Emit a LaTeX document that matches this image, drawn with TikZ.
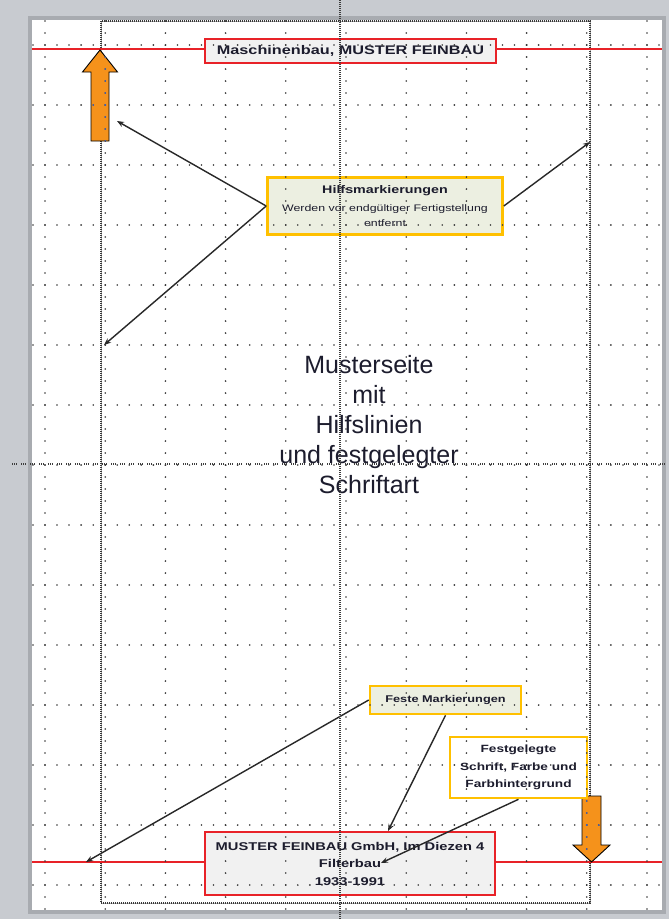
\documentclass[tikz,border=0pt]{standalone}
\usepackage{fontspec}
\setmainfont{Liberation Sans}
\newfontfamily\lblfont[FakeStretch=1.3]{Liberation Sans}
\usetikzlibrary{arrows.meta}
\definecolor{bggray}{RGB}{200,203,208}
\definecolor{shadowgray}{RGB}{168,171,176}
\definecolor{myred}{RGB}{232,34,40}
\definecolor{redfill}{RGB}{241,241,241}
\definecolor{myyellow}{RGB}{255,192,0}
\definecolor{greenfill}{RGB}{236,239,225}
\definecolor{myorange}{RGB}{245,146,27}
\definecolor{txt}{RGB}{28,28,45}
\definecolor{conncol}{RGB}{40,40,40}
\definecolor{dotcol}{RGB}{55,55,55}
\definecolor{dotblue}{RGB}{60,100,200}
\definecolor{guidecol}{RGB}{60,60,60}
\definecolor{margcol}{RGB}{55,55,55}
\definecolor{margbase}{RGB}{175,175,175}
\newcommand\mygriddots[1]{%
  \foreach \k in {0,...,10}{%
    \foreach \j in {-2,...,72}{%
      \fill[#1] (45+60.2*\k,45+12*\j) circle (0.9);
    }
  }
  \foreach \r in {0,...,14}{%
    \foreach \j in {-1,...,51}{%
      \fill[#1] (45+12.04*\j,45+60*\r) circle (0.9);
    }
  }
}
\tikzset{
  redbox/.style={draw=myred, line width=1.8pt, fill=redfill, inner sep=0pt, text=txt},
  yelbox/.style={draw=myyellow, line width=2.6pt, fill=greenfill, inner sep=0pt, text=txt, align=center},
  conn/.style={draw=conncol, line width=1.4pt, -{Stealth[length=7pt,width=5.5pt]}},
  oarrow/.style={fill=myorange, draw=black, line width=0.9pt, line join=miter},
  guide/.style={draw=guidecol, line width=1.2pt, dash pattern=on 1pt off 1pt},
  guideh/.style={draw=guidecol, line width=1.2pt, dash pattern=on 1pt off 1pt on 1pt off 1pt on 1pt off 4pt},
  marginbase/.style={draw=margbase, line width=0.7pt},
  margin/.style={draw=margcol, line width=1.2pt, dash pattern=on 1pt off 1pt},
  redline/.style={draw=myred, line width=1.8pt},
  lbl/.style={font={\lblfont\bfseries\fontsize{#1}{17.5pt}\selectfont}}
}
\begin{document}
\begin{tikzpicture}[x=1pt,y=-1pt]
\useasboundingbox (0,0) rectangle (669,919);
% window background and page
\fill[bggray] (0,0) rectangle (669,919);
\fill[shadowgray] (28,16) rectangle (666,914);
\fill[white] (32,20) rectangle (662,910);
% margin rectangle
\draw[marginbase] (101,21) rectangle (590,903);
\draw[margin] (101,21) rectangle (590,903);
% red lines
\coordinate (rtl) at (32,49);
\coordinate (rtr) at (662,49);
\coordinate (rbl) at (32,862);
\coordinate (rbr) at (662,862);
\draw[redline] (rtl) -- (rtr);
\draw[redline] (rbl) -- (rbr);
% orange arrows
\draw[oarrow] (100,50) -- (117.5,72) -- (109,72) -- (109,141) -- (91,141) -- (91,72) -- (82.5,72) -- cycle;
\draw[oarrow] (582,796) -- (601,796) -- (601,845) -- (610,845) -- (591.5,862) -- (573,845) -- (582,845) -- cycle;
% boxes
\node[redbox, minimum width=291pt, minimum height=24pt, lbl=12.5pt] (top) at (350.5,51) {Maschinenbau, MUSTER FEINBAU};
\node[redbox, minimum width=290pt, minimum height=63pt, align=center, lbl=11.3pt] (bottom) at (350,863.5)
  {MUSTER FEINBAU GmbH, Im Diezen 4\\Filterbau\\1933-1991};
\node[yelbox, minimum width=235pt, minimum height=57pt, font={\lblfont\fontsize{9.5pt}{16pt}\selectfont}] (hilf) at (385,206)
  {{\bfseries\fontsize{11pt}{16pt}\selectfont Hilfsmarkierungen}\\[2pt]
   Werden vor endgültiger Fertigstellung\\[-1.5pt]
   entfernt};
\node[yelbox, minimum width=151pt, minimum height=28pt, lbl=9.8pt] (feste) at (445.5,700) {Feste Markierungen};
\node[yelbox, fill=white, minimum width=137pt, minimum height=61pt, lbl=10.5pt] (festg) at (518.5,767.5)
  {Festgelegte\\Schrift, Farbe und\\Farbhintergrund};
% main text
\node[font=\fontsize{25pt}{30pt}\selectfont, align=center, text=txt, inner sep=0pt] (main) at (369,425)
  {Musterseite\\mit\\Hilfslinien\\und festgelegter\\Schriftart};
% connector end points
\coordinate (t1) at (117,121);
\coordinate (t2) at (104,345);
\coordinate (t3) at (590,142);
\coordinate (t4) at (86,862);
\coordinate (t5) at (388,831);
\coordinate (t6) at (381,863);
\draw[conn] (hilf.west) -- (t1);
\draw[conn] (hilf.west) -- (t2);
\draw[conn] (hilf.east) -- (t3);
\draw[conn] (feste.west) -- (t4);
\draw[conn] (feste.south) -- (t5);
\draw[conn] (festg.south) -- (t6);
% grid dots on top
\mygriddots{dotcol}
\begin{scope}
\clip (100,50) -- (117.5,72) -- (109,72) -- (109,141) -- (91,141) -- (91,72) -- (82.5,72) -- cycle
      (582,796) -- (601,796) -- (601,845) -- (610,845) -- (591.5,862) -- (573,845) -- (582,845) -- cycle;
\mygriddots{dotblue}
\end{scope}
% guides
\draw[guide] (340,0) -- (340,919);
\draw[guideh] (12,464) -- (669,464);
\end{tikzpicture}
\end{document}
